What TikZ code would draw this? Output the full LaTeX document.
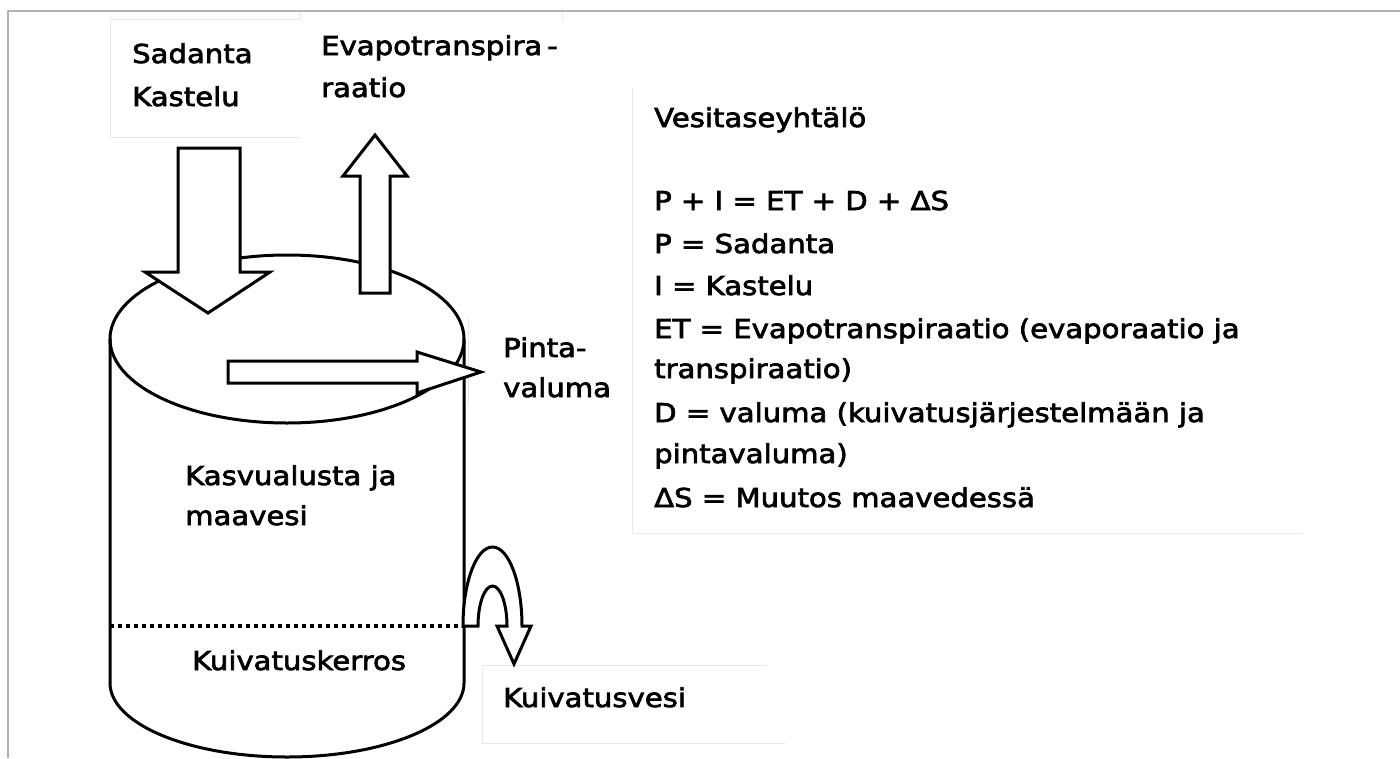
\documentclass[tikz,border=0pt]{standalone}
\usepackage{fontspec}
\setmainfont[FakeStretch=1.12, FakeBold=2.6]{DejaVu Sans}
\begin{document}
\begin{tikzpicture}[x=1pt,y=-1pt]
\tikzset{
  frame/.style={draw=black!30, line width=2pt},
  faint/.style={draw=black!9, line width=1pt},
  outline/.style={draw=black, line width=3pt},
  blockarrow/.style={draw=black, fill=white, line width=3pt, line join=miter},
  lbl/.style={anchor=base west, inner sep=0pt, font=\fontsize{26}{31}\selectfont},
}
% canvas
\fill[white] (0,0) rectangle (1400,758);
\useasboundingbox (0,0) rectangle (1400,758);

% slide frame
\draw[frame] (8,758) -- (8,11) -- (1400,11);

% faint outlines of the text boxes
\draw[faint] (300,137) -- (110,137) -- (110,19) -- (300,19) -- (300,12);
\draw[faint] (562,12) -- (562,20);
\draw[faint] (468,318) -- (468,405);
\draw[faint] (632,88) -- (632,533) -- (1303,533);
\draw[faint] (767,665) -- (482,665) -- (482,743) -- (785,743);

% cylinder: top surface, walls and rounded bottom
\draw[outline] (287,339) ellipse [x radius=177pt, y radius=84pt];
\draw[outline] (110,339) -- (110,683)
  arc[start angle=180, end angle=360, x radius=177pt, y radius=74pt]
  -- (464,339);
% boundary of the drainage layer
\draw[draw=black, line width=3.5pt, dash pattern=on 3.5pt off 4.5pt] (110,626) -- (463,626);

% inflow: precipitation and irrigation
\draw[blockarrow] (178,148) -- (240,148) -- (240,272) -- (270,272) -- (208,313)
  -- (145,272) -- (178,272) -- cycle;
% outflow: evapotranspiration
\draw[blockarrow] (360,293) -- (360,176) -- (343,176) -- (375,135) -- (407,176)
  -- (390,176) -- (390,293) -- cycle;
% surface runoff
\draw[blockarrow] (228,361) -- (417,361) -- (417,352) -- (481,372) -- (417,393)
  -- (417,383) -- (228,383) -- cycle;
% drainage water: U-turn arrow out of the drainage layer
\draw[blockarrow] (463,626) -- (478,626)
  arc[start angle=180, end angle=0, x radius=14.5pt, y radius=40pt]
  -- (497,626) -- (514,664) -- (531,626) -- (522,626)
  arc[start angle=0, end angle=180, x radius=29.5pt, y radius=79pt] -- cycle;

% labels
\node[lbl] (sadanta) at (132,63) {Sadanta};
\node[lbl] (kastelu) at (132,106) {Kastelu};
\node[lbl] (evapA) at (321,55) {Evapotranspira\hspace{5pt}-};
\node[lbl] (evapB) at (321,97) {raatio};
\node[lbl] (pintaA) at (503,357) {Pinta-};
\node[lbl] (pintaB) at (503,397) {valuma};
\node[lbl] (kasvA) at (185,485) {Kasvualusta ja};
\node[lbl] (kasvB) at (185,525) {maavesi};
\node[lbl] (kerros) at (192,670) {Kuivatuskerros};
\node[lbl] (kvesi) at (503,707) {Kuivatusvesi};

% water balance equation
\node[lbl] (eqT) at (654,127) {Vesitaseyhtälö};
\node[lbl] (eq1) at (654,210) {P + I = ET + D + ΔS};
\node[lbl] (eq2) at (654,253) {P = Sadanta};
\node[lbl] (eq3) at (654,295) {I = Kastelu};
\node[lbl] (eq4) at (654,338) {ET = Evapotranspiraatio (evaporaatio ja};
\node[lbl] (eq5) at (654,378) {transpiraatio)};
\node[lbl] (eq6) at (654,422) {D = valuma (kuivatusjärjestelmään ja};
\node[lbl] (eq7) at (654,463) {pintavaluma)};
\node[lbl] (eq8) at (654,507) {ΔS = Muutos maavedessä};
\end{tikzpicture}
\end{document}
